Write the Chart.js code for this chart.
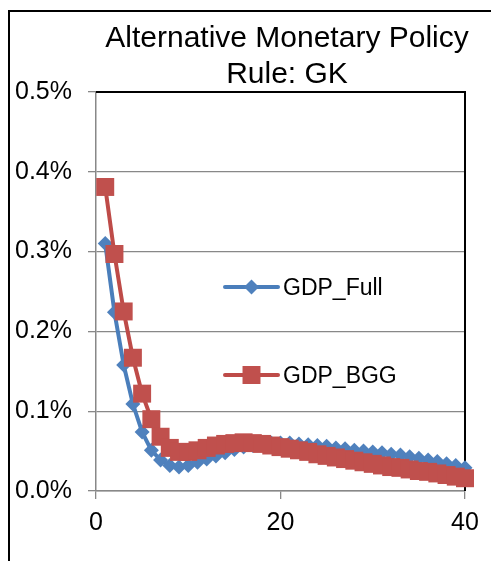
<!DOCTYPE html>
<html>
<head>
<meta charset="utf-8">
<title>Alternative Monetary Policy Rule: GK</title>
<script src="https://cdn.jsdelivr.net/npm/chart.js@4/dist/chart.umd.min.js"></script>
<style>
    html, body { margin: 0; padding: 0; background: #fff; }
    canvas { display: block; }
</style>
</head>
<body>
<canvas id="gkChart" width="491" height="561"></canvas>
<script>
// Quarters after the shock
const periods = [
    1, 2, 3, 4, 5, 6, 7, 8, 9, 10,
    11, 12, 13, 14, 15, 16, 17, 18, 19, 20,
    21, 22, 23, 24, 25, 26, 27, 28, 29, 30,
    31, 32, 33, 34, 35, 36, 37, 38, 39, 40,
];

// GDP response, in percent
const gdpFull = [
    0.310, 0.224, 0.158, 0.109, 0.074, 0.051, 0.039, 0.032, 0.030, 0.032,
    0.036, 0.040, 0.044, 0.048, 0.052, 0.055, 0.057, 0.059, 0.060, 0.060,
    0.060, 0.059, 0.058, 0.057, 0.056, 0.054, 0.053, 0.051, 0.050, 0.049,
    0.048, 0.046, 0.045, 0.043, 0.041, 0.039, 0.037, 0.034, 0.032, 0.029,
];

const gdpBgg = [
    0.381, 0.297, 0.225, 0.167, 0.122, 0.090, 0.068, 0.054, 0.049, 0.049,
    0.051, 0.054, 0.057, 0.059, 0.060, 0.061, 0.060, 0.059, 0.057, 0.055,
    0.053, 0.051, 0.049, 0.046, 0.044, 0.042, 0.040, 0.038, 0.036, 0.034,
    0.032, 0.030, 0.029, 0.027, 0.025, 0.024, 0.022, 0.020, 0.018, 0.016,
];

const titleLines = ["Alternative Monetary Policy", "Rule: GK"];
const seriesNames = ["GDP_Full", "GDP_BGG"];

const colors = {
    blueLine: "#4A7EBB",
    blueFill: "#4F81BD",
    redLine: "#BE4B48",
    redFill: "#C0504D",
    grid: "#888888",
    text: "#000000",
};

const labelFont = "'Liberation Sans', Arial, sans-serif";

function toPoints(values) {
    return periods.map((p, i) => ({ x: p, y: values[i] }));
}

// white page + the outer black frame
const framePlugin = {
    id: "frame",
    beforeDraw(chart) {
        const ctx = chart.ctx;
        ctx.save();
        ctx.fillStyle = "#fff";
        ctx.fillRect(0, 0, chart.width, chart.height);
        ctx.strokeStyle = "#000";
        ctx.lineWidth = 2;
        ctx.strokeRect(9, 11, chart.width + 20, chart.height + 20);
        ctx.restore();
    },
    // black top and right edges of the plot area
    beforeDatasetsDraw(chart) {
        const { ctx, chartArea } = chart;
        ctx.save();
        ctx.strokeStyle = "#000";
        ctx.lineWidth = 2;
        ctx.beginPath();
        ctx.moveTo(chartArea.left, chartArea.top);
        ctx.lineTo(chartArea.right, chartArea.top);
        ctx.lineTo(chartArea.right, chartArea.bottom);
        ctx.stroke();
        ctx.restore();
    },
};

const titlePlugin = {
    id: "titleText",
    afterDraw(chart) {
        const ctx = chart.ctx;
        ctx.save();
        ctx.fillStyle = colors.text;
        ctx.font = `30px ${labelFont}`;
        ctx.textAlign = "center";
        ctx.textBaseline = "alphabetic";
        ctx.fillText(titleLines[0], 287, 47);
        ctx.fillText(titleLines[1], 287, 83);
        ctx.restore();
    },
};

// legend sits inside the plot, one entry per series
const legendPlugin = {
    id: "insideLegend",
    afterDraw(chart) {
        const ctx = chart.ctx;
        const rows = [
            { y: 287, ds: chart.data.datasets[1] },
            { y: 375, ds: chart.data.datasets[0] },
        ];
        ctx.save();
        rows.forEach((row) => {
            const ds = row.ds;
            ctx.strokeStyle = ds.borderColor;
            ctx.lineWidth = ds.borderWidth;
            ctx.lineCap = "round";
            ctx.beginPath();
            ctx.moveTo(225, row.y);
            ctx.lineTo(278, row.y);
            ctx.stroke();

            const cx = 251.5;
            const r = ds.pointRadius;
            ctx.fillStyle = ds.pointBackgroundColor;
            ctx.beginPath();
            if (ds.pointStyle === "rectRot") {
                ctx.moveTo(cx, row.y - r);
                ctx.lineTo(cx + r, row.y);
                ctx.lineTo(cx, row.y + r);
                ctx.lineTo(cx - r, row.y);
                ctx.closePath();
            } else {
                const s = r * Math.SQRT1_2;
                ctx.rect(cx - s, row.y - s, 2 * s, 2 * s);
            }
            ctx.fill();

            ctx.fillStyle = colors.text;
            ctx.font = `23px ${labelFont}`;
            ctx.textAlign = "left";
            ctx.textBaseline = "alphabetic";
            ctx.fillText(ds.label, 283, row.y + 8);
        });
        ctx.restore();
    },
};

new Chart(document.getElementById("gkChart"), {
    type: "line",
    data: {
        datasets: [
            {
                label: seriesNames[1],
                data: toPoints(gdpBgg),
                borderColor: colors.redLine,
                backgroundColor: colors.redFill,
                pointBackgroundColor: colors.redFill,
                pointBorderColor: colors.redFill,
                pointBorderWidth: 0,
                pointStyle: "rect",
                pointRadius: 12.7,
                borderWidth: 4,
                tension: 0,
                clip: false,
                order: 0,
            },
            {
                label: seriesNames[0],
                data: toPoints(gdpFull),
                borderColor: colors.blueLine,
                backgroundColor: colors.blueFill,
                pointBackgroundColor: colors.blueFill,
                pointBorderColor: colors.blueFill,
                pointBorderWidth: 0,
                pointStyle: "rectRot",
                pointRadius: 7.5,
                borderWidth: 4,
                tension: 0,
                clip: false,
                order: 1,
            },
        ],
    },
    options: {
        responsive: false,
        animation: false,
        events: [],
        layout: { padding: { top: 92, right: 26, left: 0, bottom: 0 } },
        plugins: {
            legend: { display: false },
            title: { display: false },
            tooltip: { enabled: false },
        },
        scales: {
            x: {
                type: "linear",
                min: 0,
                max: 40,
                afterFit: (s) => { s.height = 70; },
                ticks: {
                    stepSize: 20,
                    color: colors.text,
                    font: { family: labelFont, size: 25 },
                    padding: 9,
                    maxRotation: 0,
                },
                grid: { drawOnChartArea: false, color: colors.grid, lineWidth: 1.3, tickLength: 8 },
                border: { color: colors.grid, width: 1.5 },
            },
            y: {
                min: 0,
                max: 0.5,
                afterFit: (s) => { s.width = 96; },
                ticks: {
                    stepSize: 0.1,
                    color: colors.text,
                    font: { family: labelFont, size: 25 },
                    padding: 16,
                    callback: (v) => `${v.toFixed(1)}%`,
                },
                grid: { color: colors.grid, lineWidth: 1.3, tickLength: 8 },
                border: { color: colors.grid, width: 1.5 },
            },
        },
    },
    plugins: [framePlugin, titlePlugin, legendPlugin],
});
</script>
</body>
</html>
